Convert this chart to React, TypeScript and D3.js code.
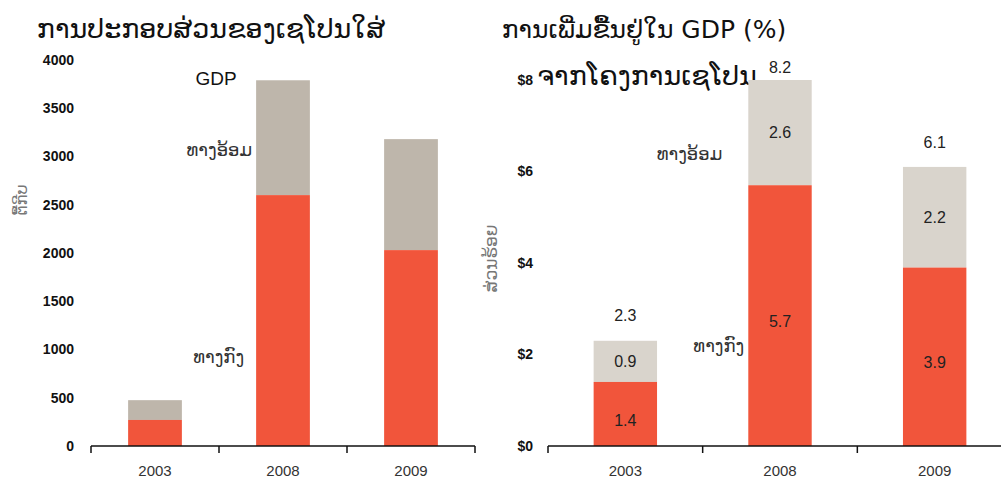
import React from "react";
import * as d3 from "d3";

const years = ["2003", "2008", "2009"];
const contribDirect = [270, 2600, 2030];
const contribIndirect = [205, 1190, 1150];
const contribTicks = [0, 500, 1000, 1500, 2000, 2500, 3000, 3500, 4000];

const growthDirect = [1.4, 5.7, 3.9];
const growthIndirect = [0.9, 2.6, 2.2];
const growthTotal = [2.3, 8.2, 6.1];
const growthTicks = [0, 2, 4, 6, 8];

const leftTitle1 = "ການປະກອບສ່ວນຂອງເຊໂປນໃສ່";
const leftTitle2 = "GDP";
const rightTitle1 = "ການເພີ່ມຂື້ນຢູ່ໃນ GDP (%)";
const rightTitle2 = "ຈາກໂຄງການເຊໂປນ";
const leftYLabel = "ຕື້ກີບ";
const rightYLabel = "ສ່ວນຮ້ອຍ";
const labelIndirect = "ທາງອ້ອມ";
const labelDirect = "ທາງກົງ";

const RED = "#F1553B";
const GRAY_L = "#BEB6AB";
const GRAY_R = "#D9D4CC";
const LAO = "'DejaVu Sans', 'Noto Sans', sans-serif";
const NARROW = "'Liberation Sans Narrow', 'Arial Narrow', 'Liberation Sans', Arial, sans-serif";
const SANS = "'Liberation Sans', Arial, sans-serif";

function Axis({ x, y0 }: { x: d3.ScaleBand<string>; y0: number }) {
  const [r0, r1] = x.range();
  const bounds = [r0, ...years.map((yy) => (x(yy) as number) + x.bandwidth())];
  return (
    <g>
      <line x1={r0} x2={r1} y1={y0} y2={y0} stroke="#111" strokeWidth={1.5} />
      {bounds.map((b, i) => (
        <line key={i} x1={b} x2={b} y1={y0} y2={y0 + 7} stroke="#111" strokeWidth={1.5} />
      ))}
      {years.map((yy) => (
        <text
          key={yy}
          x={(x(yy) as number) + x.bandwidth() / 2}
          y={y0 + 30}
          textAnchor="middle"
          fontFamily={NARROW}
          fontSize={15}
          fill="#333"
        >
          {yy}
        </text>
      ))}
    </g>
  );
}

export default function App() {
  // Left chart
  const xL = d3.scaleBand<string>().domain(years).range([91, 475]).padding(0);
  const yL = d3.scaleLinear().domain([0, 4000]).range([446, 60]);
  const bwL = xL.bandwidth() * 0.42;

  // Right chart
  const xR = d3.scaleBand<string>().domain(years).range([548, 1012]).padding(0);
  const yR = d3.scaleLinear().domain([0, 8]).range([446, 80]).clamp(true);
  const bwR = xR.bandwidth() * 0.41;

  const stackL = years.map((yy, i) => ({
    year: yy,
    d: contribDirect[i],
    t: contribDirect[i] + contribIndirect[i],
  }));
  const stackR = years.map((yy, i) => ({
    year: yy,
    d: growthDirect[i],
    ind: growthIndirect[i],
    t: growthDirect[i] + growthIndirect[i],
    label: growthTotal[i],
  }));
  const topR = yR(8);

  return (
    <svg
      width={1001}
      height={488}
      style={{ position: "absolute", left: 0, top: 0, background: "#fff" }}
    >
      <rect width={1001} height={488} fill="#fff" />
      {/* Left title */}
      <text x={211} y={38} textAnchor="middle" fontFamily={LAO} fontSize={27} fill="#111">
        {leftTitle1}
      </text>
      <text x={216} y={85} textAnchor="middle" fontFamily={SANS} fontSize={19} fill="#111">
        {leftTitle2}
      </text>

      {/* Left y ticks */}
      {contribTicks.map((t) => (
        <text
          key={t}
          x={74}
          y={yL(t)}
          dy="0.35em"
          textAnchor="end"
          fontFamily={NARROW}
          fontWeight="bold"
          fontSize={14}
          fill="#111"
        >
          {t}
        </text>
      ))}
      <text
        transform={`translate(27,${yL(2550)}) rotate(-90)`}
        textAnchor="middle"
        fontFamily={LAO}
        fontSize={16}
        fill="#777"
      >
        {leftYLabel}
      </text>

      {/* Left bars */}
      {stackL.map((s) => {
        const cx = (xL(s.year) as number) + xL.bandwidth() / 2;
        return (
          <g key={s.year}>
            <rect x={cx - bwL / 2} y={yL(s.t)} width={bwL} height={yL(s.d) - yL(s.t)} fill={GRAY_L} />
            <rect x={cx - bwL / 2} y={yL(s.d)} width={bwL} height={yL(0) - yL(s.d)} fill={RED} />
          </g>
        );
      })}
      <text
        x={(xL("2008") as number) + xL.bandwidth() / 2 - bwL / 2 - 4}
        y={yL(3070)}
        dy="0.35em"
        textAnchor="end"
        fontFamily={LAO}
        fontSize={18}
        fill="#333"
      >
        {labelIndirect}
      </text>
      <text
        x={(xL("2008") as number) + xL.bandwidth() / 2 - bwL / 2 - 12}
        y={yL(930)}
        dy="0.35em"
        textAnchor="end"
        fontFamily={LAO}
        fontSize={18}
        fill="#333"
      >
        {labelDirect}
      </text>
      <Axis x={xL} y0={yL(0)} />

      {/* Right title */}
      <text x={644} y={38} textAnchor="middle" fontFamily={LAO} fontSize={25} fill="#111">
        {rightTitle1}
      </text>
      <text x={647} y={85} textAnchor="middle" fontFamily={LAO} fontSize={27} fill="#111">
        {rightTitle2}
      </text>

      {/* Right y ticks */}
      {growthTicks.map((t) => (
        <text
          key={t}
          x={533}
          y={yR(t)}
          dy="0.35em"
          textAnchor="end"
          fontFamily={NARROW}
          fontWeight="bold"
          fontSize={14}
          fill="#111"
        >
          {"$" + t}
        </text>
      ))}
      <text
        transform={`translate(497,${yR(4.1)}) rotate(-90)`}
        textAnchor="middle"
        fontFamily={LAO}
        fontSize={17}
        fill="#777"
      >
        {rightYLabel}
      </text>

      {/* Right bars */}
      {stackR.map((s) => {
        const cx = (xR(s.year) as number) + xR.bandwidth() / 2;
        const yTop = yR(s.t);
        const yMid = yR(s.d);
        const y0 = yR(0);
        return (
          <g key={s.year}>
            <rect x={cx - bwR / 2} y={yTop} width={bwR} height={yMid - yTop} fill={GRAY_R} />
            <rect x={cx - bwR / 2} y={yMid} width={bwR} height={y0 - yMid} fill={RED} />
            <text
              x={cx}
              y={(yTop + yMid) / 2}
              dy="0.35em"
              textAnchor="middle"
              fontFamily={SANS}
              fontSize={16}
              fill="#222"
            >
              {s.ind.toFixed(1)}
            </text>
            <text
              x={cx}
              y={(yMid + y0) / 2 + 6}
              dy="0.35em"
              textAnchor="middle"
              fontFamily={SANS}
              fontSize={16}
              fill="#222"
            >
              {s.d.toFixed(1)}
            </text>
            <text
              x={cx}
              y={Math.max(yTop - 25, topR - 13)}
              dy="0.35em"
              textAnchor="middle"
              fontFamily={SANS}
              fontSize={16}
              fill="#222"
            >
              {s.label.toFixed(1)}
            </text>
          </g>
        );
      })}
      <text
        x={(xR("2008") as number) + xR.bandwidth() / 2 - bwR / 2 - 26}
        y={yR(6.4)}
        dy="0.35em"
        textAnchor="end"
        fontFamily={LAO}
        fontSize={18}
        fill="#333"
      >
        {labelIndirect}
      </text>
      <text
        x={(xR("2008") as number) + xR.bandwidth() / 2 - bwR / 2 - 4}
        y={yR(2.2)}
        dy="0.35em"
        textAnchor="end"
        fontFamily={LAO}
        fontSize={18}
        fill="#333"
      >
        {labelDirect}
      </text>
      <Axis x={xR} y0={yR(0)} />
    </svg>
  );
}
